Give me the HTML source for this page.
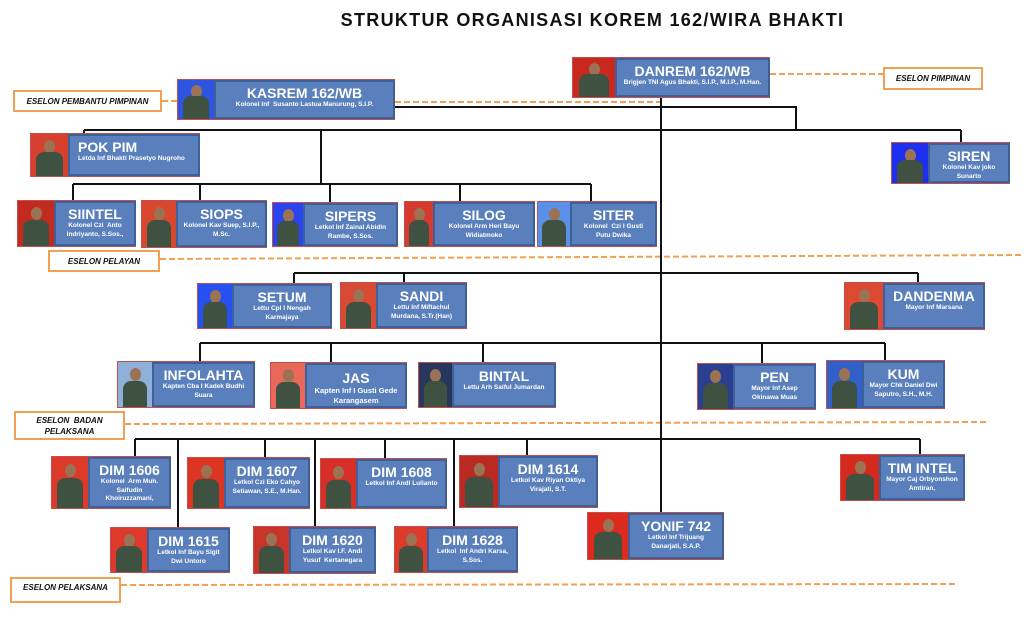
<!DOCTYPE html>
<html><head><meta charset="utf-8"><style>
*{margin:0;padding:0;box-sizing:border-box}
body{width:1024px;height:624px;position:relative;background:#fff;overflow:hidden;font-family:"Liberation Sans",Arial,sans-serif}
svg{position:absolute;left:0;top:0}
.t{position:absolute;left:0;width:1185px;top:10px;text-align:center;font-weight:bold;font-size:18px;letter-spacing:1.3px;color:#111}
.n{position:absolute;display:flex;border:1.5px solid #c0504d;border-right:none}
.p{position:relative;overflow:hidden;flex:none}
.p::before{content:"";position:absolute;left:50%;top:14%;width:11px;height:13px;margin-left:-5.5px;border-radius:50%;background:#9c7255}
.p::after{content:"";position:absolute;left:14%;right:14%;top:42%;bottom:0;border-radius:8px 8px 0 0;background:#3f5140}
.b{flex:1;background:#5a7fbd;border:2.5px solid #3f5f98;color:#fff;text-align:center;font-weight:bold;padding:1px 4px 0;overflow:hidden}
.b h{display:block;font-size:14px;line-height:16px;margin-top:2px;white-space:nowrap}
.b s{display:block;text-decoration:none;font-size:6.5px;line-height:8.5px}
.e{position:absolute;border:2px solid #f0a055;background:#fff;font-size:8px;font-weight:bold;font-style:italic;text-align:center;display:flex;align-items:center;justify-content:center;color:#111;line-height:11px}
</style></head><body>
<svg width="1024" height="624">
<g stroke="#f0a055" stroke-width="2" stroke-dasharray="6,3" fill="none">
<line x1="162" y1="101" x2="177" y2="101"/>
<line x1="395" y1="102" x2="661" y2="102"/>
<line x1="770" y1="74" x2="883" y2="74"/>
<line x1="160" y1="259" x2="1022" y2="255"/>
<line x1="125" y1="424" x2="986" y2="422"/>
<line x1="121" y1="585" x2="958" y2="584"/>
</g>
<g stroke="#111" stroke-width="2" fill="none">
<line x1="661" y1="98" x2="661" y2="512"/>
<polyline points="395,107 796,107 796,130"/>
<line x1="84" y1="130" x2="961" y2="130"/>
<line x1="84" y1="130" x2="84" y2="133"/>
<line x1="961" y1="130" x2="961" y2="142"/>
<line x1="321" y1="130" x2="321" y2="184"/>
<line x1="73" y1="184" x2="591" y2="184"/>
<line x1="73" y1="184" x2="73" y2="200"/><line x1="200" y1="184" x2="200" y2="200"/><line x1="330" y1="184" x2="330" y2="202"/><line x1="460" y1="184" x2="460" y2="201"/><line x1="591" y1="184" x2="591" y2="201"/>
<line x1="294" y1="273" x2="918" y2="273"/>
<line x1="294" y1="273" x2="294" y2="283"/><line x1="404" y1="273" x2="404" y2="282"/><line x1="918" y1="273" x2="918" y2="282"/>
<line x1="200" y1="343" x2="885" y2="343"/>
<line x1="200" y1="343" x2="200" y2="361"/><line x1="331" y1="343" x2="331" y2="362"/><line x1="483" y1="343" x2="483" y2="362"/><line x1="762" y1="343" x2="762" y2="363"/><line x1="885" y1="343" x2="885" y2="360"/>
<line x1="135" y1="439" x2="920" y2="439"/>
<line x1="135" y1="439" x2="135" y2="456"/><line x1="178" y1="439" x2="178" y2="527"/><line x1="265" y1="439" x2="265" y2="457"/><line x1="315" y1="439" x2="315" y2="526"/><line x1="385" y1="439" x2="385" y2="458"/><line x1="454" y1="439" x2="454" y2="526"/><line x1="527" y1="439" x2="527" y2="455"/><line x1="920" y1="439" x2="920" y2="454"/>
</g>
</svg>
<div class="t">STRUKTUR ORGANISASI KOREM 162/WIRA BHAKTI</div>

<div class="e" style="left:883px;top:67px;width:100px;height:23px">ESELON PIMPINAN</div>
<div class="e" style="left:13px;top:90px;width:149px;height:22px">ESELON PEMBANTU PIMPINAN</div>
<div class="e" style="left:48px;top:250px;width:112px;height:22px">ESELON PELAYAN</div>
<div class="e" style="left:14px;top:411px;width:111px;height:29px">ESELON&nbsp;&nbsp;BADAN<br>PELAKSANA</div>
<div class="e" style="left:10px;top:577px;width:111px;height:26px;align-items:flex-start;padding-top:3px">ESELON PELAKSANA</div>

<div class="n" style="left:572px;top:57px;width:198px;height:41px"><div class="p" style="width:42px;background:#c8281e"></div><div class="b"><h>DANREM 162/WB</h><s style="white-space:nowrap">Brigjen TNI Agus Bhakti, S.I.P., M.I.P., M.Han.</s></div></div>
<div class="n" style="left:177px;top:79px;width:218px;height:41px"><div class="p" style="width:36px;background:#2d55e0"></div><div class="b"><h>KASREM 162/WB</h><s>Kolonel Inf&nbsp; Susanto Lastua Manurung, S.I.P.</s></div></div>
<div class="n" style="left:30px;top:133px;width:170px;height:44px"><div class="p" style="width:37px;background:#d6402f"></div><div class="b" style="text-align:left;padding-left:8px"><h>POK PIM</h><s style="white-space:nowrap">Letda Inf Bhakti Prasetyo Nugroho</s></div></div>
<div class="n" style="left:891px;top:142px;width:119px;height:42px"><div class="p" style="width:36px;background:#1f2ff0"></div><div class="b"><h>SIREN</h><s>Kolonel Kav joko Sunarto</s></div></div>

<div class="n" style="left:17px;top:200px;width:119px;height:47px"><div class="p" style="width:36px;background:#c02a1f"></div><div class="b"><h>SIINTEL</h><s>Kolonel Czi&nbsp; Anto Indriyanto, S.Sos.,</s></div></div>
<div class="n" style="left:141px;top:200px;width:126px;height:48px"><div class="p" style="width:34px;background:#d8482f"></div><div class="b"><h>SIOPS</h><s>Kolonel Kav Suep, S.I.P., M.Sc.</s></div></div>
<div class="n" style="left:272px;top:202px;width:126px;height:45px"><div class="p" style="width:30px;background:#2a45f0"></div><div class="b"><h>SIPERS</h><s>Letkol Inf Zainal Abidin Rambe, S.Sos.</s></div></div>
<div class="n" style="left:404px;top:201px;width:131px;height:46px"><div class="p" style="width:28px;background:#d63a2e"></div><div class="b"><h>SILOG</h><s>Kolonel Arm Heri Bayu Widiatmoko</s></div></div>
<div class="n" style="left:537px;top:201px;width:120px;height:46px"><div class="p" style="width:32px;background:#5a90e8"></div><div class="b"><h>SITER</h><s>Kolonel&nbsp; Czi I Gusti Putu Dwika</s></div></div>

<div class="n" style="left:197px;top:283px;width:135px;height:46px"><div class="p" style="width:34px;background:#2650f0"></div><div class="b"><h>SETUM</h><s>Lettu Cpl I Nengah Karmajaya</s></div></div>
<div class="n" style="left:340px;top:282px;width:127px;height:47px"><div class="p" style="width:35px;background:#d94a34"></div><div class="b"><h>SANDI</h><s>Lettu Inf Miftachul Murdana, S.Tr.(Han)</s></div></div>
<div class="n" style="left:844px;top:282px;width:141px;height:48px"><div class="p" style="width:38px;background:#dd4a34"></div><div class="b"><h>DANDENMA</h><s>Mayor Inf Marsana</s></div></div>

<div class="n" style="left:117px;top:361px;width:138px;height:47px"><div class="p" style="width:34px;background:#8fb0d8"></div><div class="b"><h>INFOLAHTA</h><s>Kapten Cba I Kadek Budhi Suara</s></div></div>
<div class="n" style="left:270px;top:362px;width:137px;height:47px"><div class="p" style="width:34px;background:#e8685a"></div><div class="b"><h style="margin-top:4px">JAS</h><s style="font-size:7.5px;line-height:10px">Kapten Inf I Gusti Gede Karangasem</s></div></div>
<div class="n" style="left:418px;top:362px;width:138px;height:46px"><div class="p" style="width:33px;background:#26365c"></div><div class="b"><h>BINTAL</h><s>Lettu Arh Saiful Jumardan</s></div></div>
<div class="n" style="left:697px;top:363px;width:119px;height:47px"><div class="p" style="width:35px;background:#2a3f90"></div><div class="b"><h>PEN</h><s>Mayor Inf Asep Okinawa Muas</s></div></div>
<div class="n" style="left:826px;top:360px;width:119px;height:49px"><div class="p" style="width:35px;background:#3060c8"></div><div class="b"><h>KUM</h><s>Mayor Chk Daniel Dwi Saputro, S.H., M.H.</s></div></div>

<div class="n" style="left:51px;top:456px;width:120px;height:53px"><div class="p" style="width:36px;background:#dd3a2c"></div><div class="b"><h>DIM 1606</h><s>Kolonel&nbsp; Arm Muh. Saifudin Khoiruzzamani,</s></div></div>
<div class="n" style="left:187px;top:457px;width:123px;height:52px"><div class="p" style="width:36px;background:#dd3522"></div><div class="b"><h>DIM 1607</h><s>Letkol Czi Eko Cahyo Setiawan, S.E., M.Han.</s></div></div>
<div class="n" style="left:320px;top:458px;width:127px;height:51px"><div class="p" style="width:35px;background:#d82e28"></div><div class="b"><h>DIM 1608</h><s style="white-space:nowrap">Letkol Inf Andi Lulianto</s></div></div>
<div class="n" style="left:459px;top:455px;width:139px;height:53px"><div class="p" style="width:38px;background:#b82a22"></div><div class="b"><h>DIM 1614</h><s>Letkol Kav Riyan Oktiya Virajati, S.T.</s></div></div>
<div class="n" style="left:840px;top:454px;width:125px;height:47px"><div class="p" style="width:38px;background:#d42a1e"></div><div class="b"><h>TIM INTEL</h><s>Mayor Caj Orbyonshon Amtiran,</s></div></div>

<div class="n" style="left:110px;top:527px;width:120px;height:46px"><div class="p" style="width:36px;background:#dd3a2c"></div><div class="b"><h>DIM 1615</h><s>Letkol Inf Bayu Sigit Dwi Untoro</s></div></div>
<div class="n" style="left:253px;top:526px;width:123px;height:48px"><div class="p" style="width:35px;background:#c83528"></div><div class="b"><h>DIM 1620</h><s>Letkol Kav I.F. Andi Yusuf&nbsp; Kertanegara</s></div></div>
<div class="n" style="left:394px;top:526px;width:124px;height:47px"><div class="p" style="width:32px;background:#dd3a2c"></div><div class="b"><h>DIM 1628</h><s>Letkol&nbsp; Inf Andri Karsa, S.Sos.</s></div></div>
<div class="n" style="left:587px;top:512px;width:137px;height:48px"><div class="p" style="width:40px;background:#dd2a1e"></div><div class="b"><h>YONIF 742</h><s>Letkol Inf Trijuang Danarjati, S.A.P.</s></div></div>
</body></html>
